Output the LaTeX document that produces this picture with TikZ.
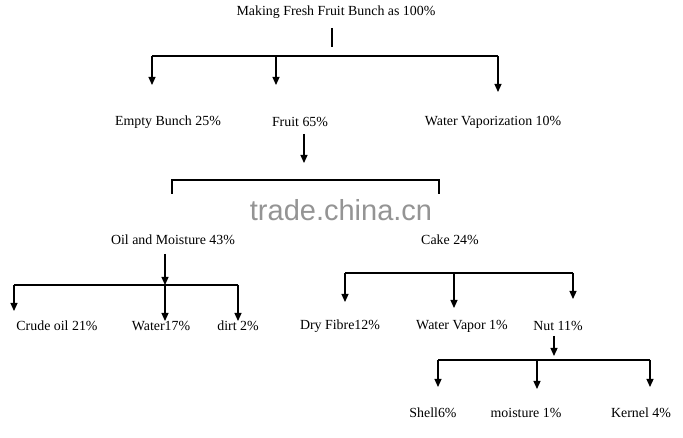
\documentclass[tikz,border=0pt]{standalone}
\usepackage{fontspec}
\setmainfont{Liberation Serif}
\newfontfamily\wmfont{Liberation Sans}
\usetikzlibrary{arrows.meta}
\begin{document}
\begin{tikzpicture}[x=1pt,y=-1pt,
  lbl/.style={inner sep=0pt,font=\fontsize{13.9}{16}\selectfont,text=black},
  ln/.style={line width=1.2pt,draw=black},
  arr/.style={ln,-{Triangle[width=7pt,length=8pt]}}]
\useasboundingbox[fill=white] (0,0) rectangle (683,438);
% watermark
\node[inner sep=0pt,font=\wmfont\fontsize{29}{32}\selectfont,text=black!42] (wm) at (341,210) {trade.china.cn};
% labels
\node[lbl] (title) at (336,12) {Making Fresh Fruit Bunch as 100\%};
\node[lbl] (eb) at (168,122) {Empty Bunch 25\%};
\node[lbl] (fr) at (300,122) {Fruit 65\%};
\node[lbl] (wv) at (493,122) {Water Vaporization 10\%};
\node[lbl] (om) at (173,240) {Oil and Moisture 43\%};
\node[lbl] (ck) at (450,240) {Cake 24\%};
\node[lbl] (co) at (57,326) {Crude oil 21\%};
\node[lbl] (wa) at (161,326) {Water17\%};
\node[lbl] (di) at (238,326) {dirt 2\%};
\node[lbl] (df) at (340,326) {Dry Fibre12\%};
\node[lbl] (wp) at (462,326) {Water Vapor 1\%};
\node[lbl] (nu) at (558,326) {Nut 11\%};
\node[lbl] (sh) at (433,413) {Shell6\%};
\node[lbl] (mo) at (526,413) {moisture 1\%};
\node[lbl] (ke) at (641,413) {Kernel 4\%};
% coordinates
\coordinate (t1) at (332,28); \coordinate (t2) at (332,47);
\coordinate (h1a) at (152,56); \coordinate (h1b) at (276,56); \coordinate (h1c) at (498,56);
\coordinate (e1) at (152,85); \coordinate (e2) at (276,85); \coordinate (e3) at (498,92);
\coordinate (f1) at (304,134); \coordinate (f2) at (304,163);
\coordinate (h2a) at (172,180); \coordinate (h2b) at (439,180);
\coordinate (s2a) at (172,194); \coordinate (s2b) at (439,194);
\coordinate (o1) at (165,254); \coordinate (o2) at (165,285);
\coordinate (h3a) at (14,285); \coordinate (h3c) at (238,285);
\coordinate (g1) at (14,311); \coordinate (g2) at (165,321); \coordinate (g3) at (238,321);
\coordinate (h4a) at (345,273); \coordinate (h4b) at (454,273); \coordinate (h4c) at (573,273);
\coordinate (k1) at (345,302); \coordinate (k2) at (454,308); \coordinate (k3) at (573,299);
\coordinate (n1) at (554,336); \coordinate (n2) at (554,356);
\coordinate (h5a) at (438,360); \coordinate (h5b) at (537,360); \coordinate (h5c) at (650,360);
\coordinate (m1) at (438,387); \coordinate (m2) at (537,389); \coordinate (m3) at (650,387);
% connectors
\draw[ln] (t1) -- (t2);
\draw[ln] (h1a) -- (h1c);
\draw[arr] (h1a) -- (e1);
\draw[arr] (h1b) -- (e2);
\draw[arr] (h1c) -- (e3);
\draw[arr] (f1) -- (f2);
\draw[ln] (s2a) -- (h2a) -- (h2b) -- (s2b);
\draw[arr] (o1) -- (o2);
\draw[ln] (h3a) -- (h3c);
\draw[arr] (h3a) -- (g1);
\draw[arr] (o2) -- (g2);
\draw[arr] (h3c) -- (g3);
\draw[ln] (h4a) -- (h4c);
\draw[arr] (h4a) -- (k1);
\draw[arr] (h4b) -- (k2);
\draw[arr] (h4c) -- (k3);
\draw[arr] (n1) -- (n2);
\draw[ln] (h5a) -- (h5c);
\draw[arr] (h5a) -- (m1);
\draw[arr] (h5b) -- (m2);
\draw[arr] (h5c) -- (m3);
\end{tikzpicture}
\end{document}
